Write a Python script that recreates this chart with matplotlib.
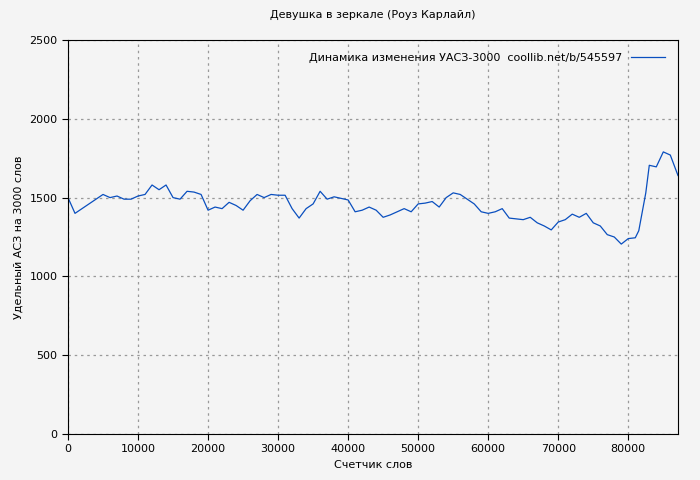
import numpy as np
import matplotlib.pyplot as plt

words = [0, 1000, 2000, 3000, 4000, 5000, 6000, 7000, 8000, 9000,
         10000, 11000, 12000, 13000, 14000, 15000, 16000, 17000, 18000, 19000,
         20000, 21000, 22000, 23000, 24000, 25000, 26000, 27000, 28000, 29000,
         30000, 31000, 32000, 33000, 34000, 35000, 36000, 37000, 38000, 39000,
         40000, 41000, 42000, 43000, 44000, 45000, 46000, 47000, 48000, 49000,
         50000, 51000, 52000, 53000, 54000, 55000, 56000, 57000, 58000, 59000,
         60000, 61000, 62000, 63000, 64000, 65000, 66000, 67000, 68000, 69000,
         70000, 71000, 72000, 73000, 74000, 75000, 76000, 77000, 78000, 79000,
         80000, 81000, 81500, 82500, 83000, 84000, 85000, 86000, 87100]
usas = [1500, 1400, 1430, 1460, 1490, 1520, 1500, 1510, 1490, 1490,
        1510, 1520, 1580, 1550, 1580, 1500, 1490, 1540, 1535, 1520,
        1420, 1440, 1430, 1470, 1450, 1420, 1480, 1520, 1500, 1520,
        1515, 1515, 1430, 1370, 1430, 1460, 1540, 1490, 1505, 1495,
        1485, 1410, 1420, 1440, 1420, 1375, 1390, 1410, 1430, 1410,
        1460, 1465, 1475, 1440, 1500, 1530, 1520, 1490, 1460, 1410,
        1400, 1410, 1430, 1370, 1365, 1360, 1375, 1340, 1320, 1295,
        1345, 1360, 1395, 1375, 1400, 1340, 1320, 1265, 1250, 1205,
        1240, 1245, 1290, 1530, 1705, 1695, 1790, 1770, 1640]

fig = plt.figure(figsize=(7, 4.8), dpi=100)
ax = fig.add_axes([68 / 700, 46 / 480, 610 / 700, 394 / 480])
fig.patch.set_facecolor('#f4f4f4')
ax.set_facecolor('#f4f4f4')
ax.plot(words, usas, color='#0a4fbf', lw=0.9,
        label='Динамика изменения УАСЗ-3000  coollib.net/b/545597')
ax.set_xlim(0, 87100)
ax.set_ylim(0, 2500)
ax.set_xticks(np.arange(0, 87000, 10000))
ax.set_yticks(np.arange(0, 2501, 500))
ax.grid(True, color='#999999', linestyle=(0, (2, 3)), lw=0.9)
for s in ax.spines.values():
    s.set_color('black')
ax.tick_params(labelsize=8, direction='out', length=4)
ax.set_title('Девушка в зеркале (Роуз Карлайл)', fontsize=8, pad=16)
ax.set_xlabel('Счетчик слов', fontsize=8)
ax.set_ylabel('Удельный АСЗ на 3000 слов', fontsize=8)
leg = ax.legend(loc='upper right', fontsize=8, frameon=False, markerfirst=False,
                handlelength=3, borderaxespad=0.8)
fig.savefig('out.png', dpi=100, facecolor=fig.get_facecolor())
